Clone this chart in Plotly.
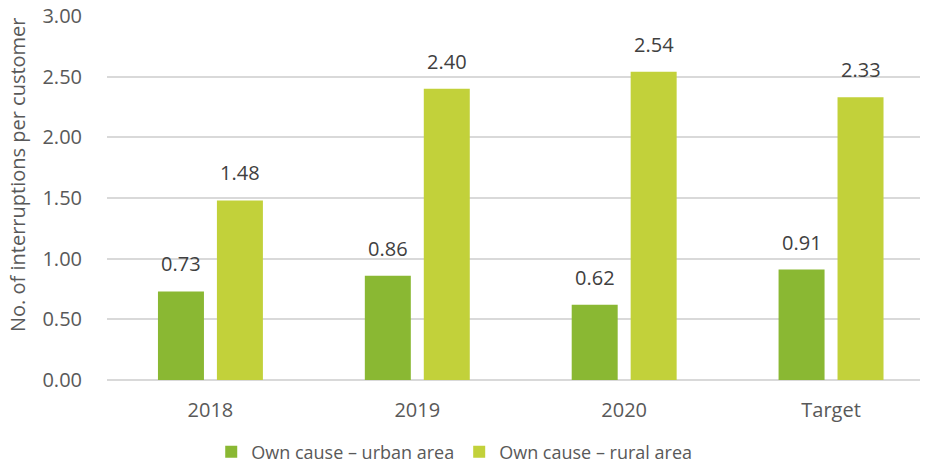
import plotly.graph_objects as go

categories = ["2018", "2019", "2020", "Target"]
urban = [0.73, 0.86, 0.62, 0.91]
rural = [1.48, 2.40, 2.54, 2.33]
series_names = ["Own cause – urban area", "Own cause – rural area"]
colors = ["#8AB833", "#C2D13A"]
y_ticks = [0, 0.5, 1.0, 1.5, 2.0, 2.5, 3.0]
y_title = "No. of interruptions per customer"

FONT = "Open Sans"
TXT = "#595959"

W, H = 927, 465
L, R, T, B = 107, 7, 16, 85
pw, ph = W - L - R, H - T - B

fig = go.Figure()
for name, vals, col in zip(series_names, [urban, rural], colors):
    fig.add_trace(go.Bar(x=categories, y=vals, name=name, marker_color=col,
                         marker_line_width=0))

annotations = []
for i, vals in enumerate([urban, rural]):
    shift = -29.5 if i == 0 else 29.5
    for ci, v in enumerate(vals):
        annotations.append(dict(x=ci, y=v, xref="x", yref="y", text=f"{v:.2f}",
                                showarrow=False, xshift=shift, yanchor="bottom",
                                yshift=12, font=dict(family=FONT, size=20, color="#404040")))
annotations.append(dict(x=(17 - L) / pw, y=(H - B - 175) / ph, xref="paper", yref="paper",
                        xanchor="center", yanchor="middle",
                        text=y_title, showarrow=False, textangle=-90,
                        font=dict(family=FONT, size=20, color=TXT)))

fig.update_layout(
    width=W, height=H,
    margin=dict(l=L, r=R, t=T, b=B),
    plot_bgcolor="white", paper_bgcolor="white",
    barmode="group", bargap=0.43, bargroupgap=0.22,
    font=dict(family=FONT, size=18, color=TXT),
    showlegend=True,
    legend=dict(orientation="h", xref="container", yref="container",
                x=0.49, xanchor="center", y=13 / H, yanchor="middle",
                font=dict(family=FONT, size=18, color=TXT)),
    annotations=annotations,
    xaxis=dict(range=[-0.5, 3.43], showgrid=False, showline=False, zeroline=False,
               automargin=False,
               ticks="outside", ticklen=12, tickcolor="rgba(0,0,0,0)",
               tickfont=dict(family=FONT, size=20, color=TXT)),
    yaxis=dict(range=[0, 3.0], tickvals=y_ticks, tickformat=".2f",
               automargin=False,
               showgrid=True, gridcolor="#D9D9D9", gridwidth=1.5,
               zeroline=True, zerolinecolor="#D9D9D9", zerolinewidth=1.5,
               showline=False, ticks="outside", ticklen=20,
               tickcolor="rgba(0,0,0,0)",
               tickfont=dict(family=FONT, size=20, color=TXT)),
)

fig.write_html("out.html", config={"displayModeBar": False},
               post_script="document.body.style.margin='0';")
